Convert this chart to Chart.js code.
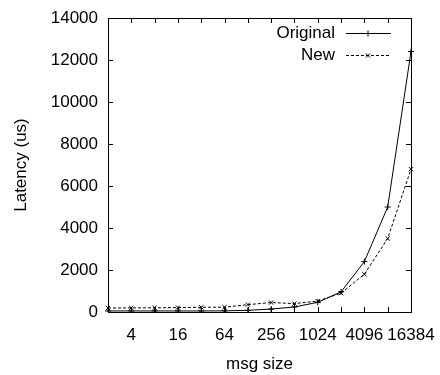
<!DOCTYPE html>
<html>
<head>
<meta charset="utf-8">
<script src="https://cdn.jsdelivr.net/npm/chart.js@4"></script>
<style>
  html, body { margin: 0; padding: 0; background: #fff; }
  #wrap { width: 440px; height: 375px; }
</style>
</head>
<body>
<div id="wrap"><canvas id="latencyChart" width="440" height="375"></canvas></div>
<script>
// message sizes (x axis) and measured latency in us
const msgSizes = [2, 4, 8, 16, 32, 64, 128, 256, 512, 1024, 2048, 4096, 8192, 16384];
const originalLatency = [50, 50, 50, 50, 50, 55, 80, 140, 240, 460, 960, 2400, 5000, 12400];
const newLatency = [190, 195, 200, 210, 225, 230, 350, 450, 400, 520, 900, 1800, 3500, 6800];
const yTicks = [0, 2000, 4000, 6000, 8000, 10000, 12000, 14000];

const FONT = 'Liberation Sans, Arial, sans-serif';

// gnuplot style: tick marks drawn inward on all four sides, plus legend in top right
const frameTicks = {
    id: 'frameTicks',
    afterDraw(chart) {
        const ctx = chart.ctx;
        const area = chart.chartArea;
        const xs = chart.scales.x;
        const ys = chart.scales.y;
        ctx.save();
        ctx.strokeStyle = '#000';
        ctx.lineWidth = 1;
        ctx.strokeRect(area.left + 0.5, area.top + 0.5, area.right - area.left, area.bottom - area.top);
        ctx.beginPath();
        msgSizes.forEach((s, i) => {
            const x = Math.round(xs.getPixelForValue(i)) + 0.5;
            ctx.moveTo(x, area.bottom);
            ctx.lineTo(x, area.bottom - 5);
            ctx.moveTo(x, area.top);
            ctx.lineTo(x, area.top + 5);
        });
        yTicks.forEach(v => {
            const y = Math.round(ys.getPixelForValue(v)) + 0.5;
            ctx.moveTo(area.left, y);
            ctx.lineTo(area.left + 5, y);
            ctx.moveTo(area.right, y);
            ctx.lineTo(area.right - 5, y);
        });
        ctx.stroke();

        // legend
        const entries = [
            { text: 'Original', dash: [], style: 'cross', y: 33 },
            { text: 'New', dash: [3, 2], style: 'crossRot', y: 55 }
        ];
        ctx.font = '17px ' + FONT;
        ctx.fillStyle = '#000';
        ctx.textAlign = 'right';
        ctx.textBaseline = 'middle';
        entries.forEach(e => {
            ctx.fillText(e.text, 335, e.y);
            ctx.setLineDash(e.dash);
            ctx.beginPath();
            ctx.moveTo(346, e.y + 0.5);
            ctx.lineTo(391, e.y + 0.5);
            ctx.stroke();
            ctx.setLineDash([]);
            Chart.helpers.drawPoint(ctx, { pointStyle: e.style, radius: 3, borderWidth: 1 }, 368, e.y + 0.5);
        });
        ctx.restore();
    }
};

const ctx = document.getElementById('latencyChart').getContext('2d');
const latencyChart = new Chart(ctx, {
    type: 'line',
    data: {
        labels: msgSizes,
        datasets: [{
            label: 'Original',
            data: originalLatency,
            borderColor: '#000',
            backgroundColor: '#000',
            borderWidth: 1,
            pointStyle: 'cross',
            pointRadius: 3,
            pointBorderWidth: 1,
            tension: 0
        }, {
            label: 'New',
            data: newLatency,
            borderColor: '#000',
            backgroundColor: '#000',
            borderWidth: 1,
            borderDash: [3, 2],
            pointStyle: 'crossRot',
            pointRadius: 3,
            pointBorderWidth: 1,
            tension: 0
        }]
    },
    options: {
        responsive: false,
        animation: false,
        layout: { padding: { top: 18, right: 29, left: 0, bottom: 0 } },
        plugins: {
            legend: { display: false },
            tooltip: { enabled: false }
        },
        scales: {
            x: {
                type: 'category',
                offset: false,
                grid: { display: false, drawTicks: false },
                border: { display: false },
                ticks: {
                    autoSkip: false,
                    maxRotation: 0,
                    padding: 13,
                    color: '#000',
                    font: { family: FONT, size: 17 },
                    callback: (v, i) => (i % 2 === 1 ? String(msgSizes[i]) : '')
                },
                title: {
                    display: true,
                    text: 'msg size',
                    color: '#000',
                    font: { family: FONT, size: 17 },
                    padding: { top: 0, bottom: 0 }
                },
                afterFit: scale => {
                    scale.height = 63;
                    scale.paddingLeft = 0;
                    scale.paddingRight = 0;
                }
            },
            y: {
                min: 0,
                max: 14000,
                grid: { display: false, drawTicks: false },
                border: { display: false },
                afterBuildTicks: scale => { scale.ticks = yTicks.map(v => ({ value: v })); },
                ticks: {
                    padding: 10,
                    color: '#000',
                    font: { family: FONT, size: 17 },
                    callback: v => String(v)
                },
                title: {
                    display: true,
                    text: 'Latency (us)',
                    color: '#000',
                    font: { family: FONT, size: 17 },
                    padding: { top: 11, bottom: 0 }
                },
                afterFit: scale => {
                    scale.width = 108;
                    scale.paddingTop = 0;
                    scale.paddingBottom = 0;
                }
            }
        }
    },
    plugins: [frameTicks]
});
</script>
</body>
</html>
